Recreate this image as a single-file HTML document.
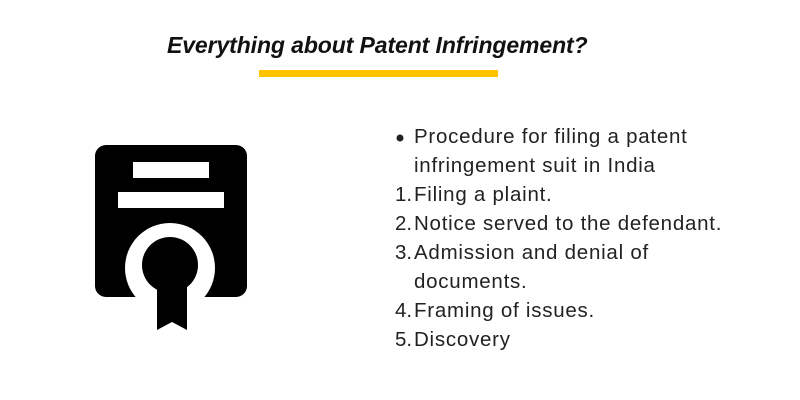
<!DOCTYPE html>
<html><head><style>
body{margin:0;width:800px;height:400px;background:#fff;position:relative;overflow:hidden;font-family:"Liberation Sans",sans-serif}
.t{position:absolute;left:167px;top:32px;font-size:23px;font-style:italic;font-weight:bold;letter-spacing:-0.1px;color:#111;white-space:nowrap}
.bar{position:absolute;left:259px;top:70px;width:239px;height:7px;background:#ffc300}
.l{position:absolute;left:414px;font-size:20.5px;letter-spacing:0.75px;color:#222;white-space:nowrap}
.n{position:absolute;left:395px;font-size:20.5px;color:#222}
</style></head><body>
<div class="t">Everything about Patent Infringement?</div>
<div class="bar"></div>
<svg width="800" height="400" style="position:absolute;left:0;top:0">
<rect x="95" y="145" width="152" height="152" rx="11" fill="#000"/>
<rect x="133" y="162" width="76" height="16" fill="#fff"/>
<rect x="118" y="192" width="106" height="16" fill="#fff"/>
<circle cx="170" cy="268" r="45" fill="#fff"/>
<polygon points="157,285 187,285 187,330 172,322 157,330" fill="#000"/>
<circle cx="170" cy="265" r="28" fill="#000"/>
<circle cx="400" cy="138" r="3.5" fill="#222"/>
</svg>
<div class="l" style="top:125px">Procedure for filing a patent</div>
<div class="l" style="top:154px">infringement suit in India</div>
<div class="n" style="top:183px">1.</div><div class="l" style="top:183px">Filing a plaint.</div>
<div class="n" style="top:212px">2.</div><div class="l" style="top:212px">Notice served to the defendant.</div>
<div class="n" style="top:241px">3.</div><div class="l" style="top:241px">Admission and denial of</div>
<div class="l" style="top:270px">documents.</div>
<div class="n" style="top:299px">4.</div><div class="l" style="top:299px">Framing of issues.</div>
<div class="n" style="top:328px">5.</div><div class="l" style="top:328px">Discovery</div>
</body></html>
